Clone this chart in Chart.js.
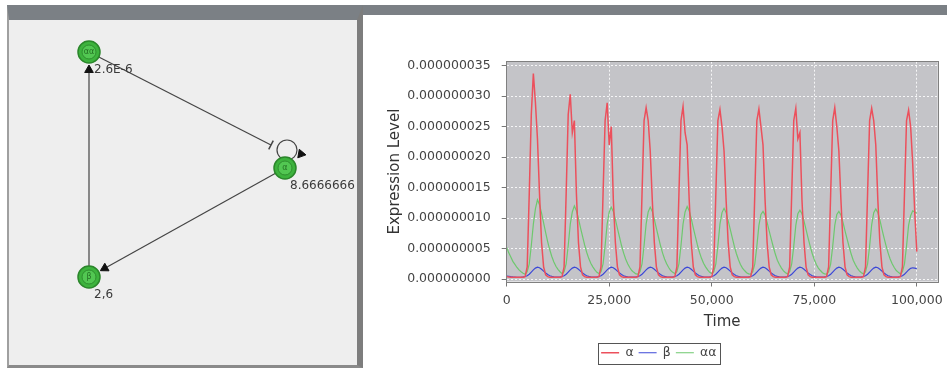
<!DOCTYPE html>
<html>
<head>
<meta charset="utf-8">
<script src="https://cdn.jsdelivr.net/npm/chart.js@4.4.0/dist/chart.umd.min.js"></script>
<style>
body{margin:0;background:#fff;width:947px;height:370px;overflow:hidden;position:relative}
#bar{position:absolute;left:7px;top:5px;width:940px;height:10px;background:#7b8085}
#panel{position:absolute;left:7px;top:5px;width:348px;height:345px;background:#eeeeee;
  border-top:15px solid #7b8085;border-left:2px solid #a0a0a0;border-right:6px solid #7d7d7d;border-bottom:3px solid #8a8a8a}
#net{position:absolute;left:0;top:0}
#sim{position:absolute;left:380px;top:20px}
</style>
</head>
<body>
<div id="bar"></div>
<div id="panel"></div>
<canvas id="net" width="357" height="370"></canvas>
<canvas id="sim" width="567" height="350"></canvas>
<script>
Chart.defaults.font.family = 'DejaVu Sans';
Chart.defaults.color = '#444';

// network panel
var nodeNames = ['αα', 'α', 'β'];
var nodeX = [89, 285, 89];
var nodeY = [52, 168, 277];
var nodeValues = ['2.6E-6', '8.6666666', '2,6'];
var edgeFrom = [2, 1, 0];
var edgeTo = [0, 2, 1];
var edgeKind = ['arrow', 'arrow', 'inhibit'];
var loopNode = 1;

// simulation (values in units of 1e-9)
var times = [
  0,500,1000,1500,2000,2500,3000,3500,4000,4500,
  5000,5500,6000,6500,7000,7500,8000,8500,9000,9500,
  10000,10500,11000,11500,12000,12500,13000,13500,14000,14500,
  15000,15500,16000,16500,17000,17500,18000,18500,19000,19500,
  20000,20500,21000,21500,22000,22500,23000,23500,24000,24500,
  25000,25500,26000,26500,27000,27500,28000,28500,29000,29500,
  30000,30500,31000,31500,32000,32500,33000,33500,34000,34500,
  35000,35500,36000,36500,37000,37500,38000,38500,39000,39500,
  40000,40500,41000,41500,42000,42500,43000,43500,44000,44500,
  45000,45500,46000,46500,47000,47500,48000,48500,49000,49500,
  50000,50500,51000,51500,52000,52500,53000,53500,54000,54500,
  55000,55500,56000,56500,57000,57500,58000,58500,59000,59500,
  60000,60500,61000,61500,62000,62500,63000,63500,64000,64500,
  65000,65500,66000,66500,67000,67500,68000,68500,69000,69500,
  70000,70500,71000,71500,72000,72500,73000,73500,74000,74500,
  75000,75500,76000,76500,77000,77500,78000,78500,79000,79500,
  80000,80500,81000,81500,82000,82500,83000,83500,84000,84500,
  85000,85500,86000,86500,87000,87500,88000,88500,89000,89500,
  90000,90500,91000,91500,92000,92500,93000,93500,94000,94500,
  95000,95500,96000,96500,97000,97500,98000,98500,99000,99500,
  100000
];
var alphaNano = [
  0.4,0.35,0.3,0.3,0.3,0.3,0.3,0.3,0.3,0.4,
  2,14,27,33.7,29,23,14,6,2,0.7,
  0.4,0.3,0.3,0.3,0.3,0.3,0.3,0.4,2,14,
  27,30.3,24,26,14,6,2,0.7,0.4,0.3,
  0.3,0.3,0.3,0.3,0.3,0.4,2,14,26,28.9,
  22,25,13,6,2,0.7,0.4,0.3,0.3,0.3,
  0.3,0.3,0.3,0.3,0.4,2,14,26,28.1,26,
  21,13,6,2,0.7,0.4,0.3,0.3,0.3,0.3,
  0.3,0.3,0.4,2,14,26,28.3,24,22,13,
  6,2,0.7,0.4,0.3,0.3,0.3,0.3,0.3,0.3,
  0.4,2,14,26,27.8,25,21,13,6,2,
  0.7,0.4,0.3,0.3,0.3,0.3,0.3,0.3,0.3,0.4,
  2,14,26,27.9,25,22,13,6,2,0.7,
  0.4,0.3,0.3,0.3,0.3,0.3,0.3,0.4,2,14,
  26,28,23,24,13,6,2,0.7,0.4,0.3,
  0.3,0.3,0.3,0.3,0.3,0.3,0.4,2,14,26,
  28.1,25,21,13,6,2,0.7,0.4,0.3,0.3,
  0.3,0.3,0.3,0.3,0.4,2,14,26,28,26,
  22,13,6,2,0.7,0.4,0.3,0.3,0.3,0.3,
  0.3,0.3,0.4,2,14,26,27.7,25,19,11,
  4.5
];
var betaNano = [
  0.5,0.45,0.4,0.36,0.33,0.3,0.3,0.3,0.35,0.42,
  0.55,0.8,1.15,1.5,1.8,1.95,1.85,1.6,1.3,1.0,
  0.75,0.55,0.45,0.38,0.34,0.32,0.35,0.42,0.55,0.8,
  1.15,1.5,1.8,1.95,1.85,1.6,1.3,1.0,0.75,0.55,
  0.45,0.38,0.34,0.32,0.35,0.42,0.55,0.8,1.15,1.5,
  1.8,1.95,1.85,1.6,1.3,1.0,0.75,0.55,0.45,0.38,
  0.34,0.32,0.32,0.35,0.42,0.55,0.8,1.15,1.5,1.8,
  1.95,1.85,1.6,1.3,1.0,0.75,0.55,0.45,0.38,0.34,
  0.32,0.35,0.42,0.55,0.8,1.15,1.5,1.8,1.95,1.85,
  1.6,1.3,1.0,0.75,0.55,0.45,0.38,0.34,0.32,0.35,
  0.42,0.55,0.8,1.15,1.5,1.8,1.95,1.85,1.6,1.3,
  1.0,0.75,0.55,0.45,0.38,0.34,0.32,0.32,0.35,0.42,
  0.55,0.8,1.15,1.5,1.8,1.95,1.85,1.6,1.3,1.0,
  0.75,0.55,0.45,0.38,0.34,0.32,0.35,0.42,0.55,0.8,
  1.15,1.5,1.8,1.95,1.85,1.6,1.3,1.0,0.75,0.55,
  0.45,0.38,0.34,0.32,0.32,0.35,0.42,0.55,0.8,1.15,
  1.5,1.8,1.95,1.85,1.6,1.3,1.0,0.75,0.55,0.45,
  0.38,0.34,0.32,0.35,0.42,0.55,0.8,1.15,1.5,1.8,
  1.95,1.85,1.6,1.3,1.0,0.75,0.55,0.45,0.38,0.34,
  0.32,0.35,0.42,0.55,0.8,1.15,1.5,1.75,1.85,1.8,
  1.7
];
var alphaAlphaNano = [
  5.2,4.3,3.6,2.9,2.4,1.9,1.5,1.2,0.95,0.8,
  1.2,2.5,5.5,9,11.5,13,12.2,10.8,9.2,7.6,
  6.1,4.8,3.7,2.8,2.1,1.6,1.2,0.9,1.2,2.5,
  5.5,9,11,12,11.2,9.9,8.4,7,5.6,4.4,
  3.4,2.6,2.0,1.5,1.1,0.9,1.2,2.5,5.5,9,
  11,11.8,11.1,9.8,8.3,6.9,5.5,4.3,3.3,2.5,
  1.9,1.4,1.1,0.85,0.8,1.2,2.5,5.5,9,11,
  11.8,11.1,9.8,8.3,6.9,5.5,4.3,3.3,2.5,1.9,
  1.4,1.1,0.9,1.2,2.5,5.5,9,11,11.9,11.2,
  9.9,8.4,7,5.6,4.4,3.4,2.6,2.0,1.5,1.1,
  0.9,1.2,2.5,5.5,9,10.9,11.6,10.9,9.6,8.2,
  6.8,5.4,4.2,3.2,2.4,1.8,1.4,1.05,0.85,0.8,
  1.2,2.5,5.4,8.8,10.6,11.1,10.5,9.3,7.9,6.6,
  5.3,4.1,3.1,2.4,1.8,1.35,1.05,0.85,1.2,2.5,
  5.4,8.8,10.7,11.3,10.7,9.5,8.1,6.7,5.4,4.2,
  3.2,2.4,1.8,1.4,1.05,0.85,0.8,1.2,2.5,5.4,
  8.8,10.6,11.1,10.5,9.3,7.9,6.6,5.3,4.1,3.1,
  2.4,1.8,1.35,1.05,0.85,1.2,2.5,5.4,8.9,10.9,
  11.5,10.9,9.7,8.2,6.8,5.5,4.3,3.3,2.5,1.9,
  1.4,1.1,0.85,1.2,2.5,5.4,8.8,10.4,11.2,11.0,
  10.8
];
var seriesNames = ['α', 'β', 'αα'];
var seriesColors = ['rgb(236,80,92)', 'rgb(60,72,215)', 'rgb(110,200,110)'];
var yTicks = [0, 5, 10, 15, 20, 25, 30, 35];
var yTickLabels = ['0.000000000', '0.000000005', '0.000000010', '0.000000015',
  '0.000000020', '0.000000025', '0.000000030', '0.000000035'];
var xTicks = [0, 25000, 50000, 75000, 100000];
var xTickLabels = ['0', '25,000', '50,000', '75,000', '100,000'];

// ---------- network diagram ----------
function towards(from, to, d) {
  var dx = nodeX[from] - nodeX[to], dy = nodeY[from] - nodeY[to];
  var len = Math.hypot(dx, dy);
  return {x: nodeX[to] + dx / len * d, y: nodeY[to] + dy / len * d};
}
function headingDeg(p, q) {
  return Math.atan2(q.x - p.x, -(q.y - p.y)) * 180 / Math.PI;
}
// inhibition bar sits up-left of the target, clear of the self loop
var inhibitShift = {dx: -14, dy: -23};

var netSets = [];
var arrowPts = [], arrowRot = [];
var barPts = [], barRot = [];
for (var e = 0; e < edgeFrom.length; e++) {
  var s = edgeFrom[e], t = edgeTo[e];
  var start = {x: nodeX[s], y: nodeY[s]};
  var end;
  if (edgeKind[e] === 'inhibit') {
    end = {x: nodeX[t] + inhibitShift.dx, y: nodeY[t] + inhibitShift.dy};
    barPts.push(end);
    barRot.push(headingDeg(start, end));
  } else {
    end = towards(s, t, 14);
    arrowPts.push(towards(s, t, 18));
    arrowRot.push(headingDeg(start, end));
  }
  netSets.push({
    type: 'line', data: [start, end],
    borderColor: '#444', borderWidth: 1.2, pointRadius: 0, order: 3
  });
}
// self loop on node
netSets.push({
  data: [{x: nodeX[loopNode] + 2, y: nodeY[loopNode] - 18}],
  pointStyle: 'circle', pointRadius: 10, backgroundColor: 'rgba(0,0,0,0)',
  borderColor: '#444', borderWidth: 1.2, order: 3
});
arrowPts.push({x: nodeX[loopNode] + 16, y: nodeY[loopNode] - 14});
arrowRot.push(100);

netSets.push({
  data: arrowPts, pointStyle: 'triangle', pointRadius: 5, rotation: arrowRot,
  backgroundColor: '#111', borderColor: '#111', borderWidth: 1, order: 1
});
netSets.push({
  data: barPts, pointStyle: 'line', pointRadius: 5, rotation: barRot,
  backgroundColor: '#444', borderColor: '#444', borderWidth: 1.5, order: 1
});
netSets.push({
  data: nodeX.map(function (x, i) { return {x: x, y: nodeY[i]}; }),
  pointStyle: 'circle', pointRadius: 11, backgroundColor: '#3db33d',
  borderColor: '#2b862b', borderWidth: 1.5, order: 0
});
netSets.push({
  data: nodeX.map(function (x, i) { return {x: x, y: nodeY[i]}; }),
  pointStyle: 'circle', pointRadius: 7, backgroundColor: '#52c752',
  borderColor: '#2f8f2f', borderWidth: 1, order: -1
});

var netText = {
  id: 'netText',
  afterDatasetsDraw: function (chart) {
    var ctx = chart.ctx, xs = chart.scales.x, ys = chart.scales.y;
    ctx.save();
    ctx.textBaseline = 'middle';
    for (var i = 0; i < nodeX.length; i++) {
      var px = xs.getPixelForValue(nodeX[i]), py = ys.getPixelForValue(nodeY[i]);
      ctx.font = '8px "DejaVu Sans"';
      ctx.fillStyle = '#237023';
      ctx.textAlign = 'center';
      ctx.fillText(nodeNames[i], px, py);
      ctx.font = '12px "DejaVu Sans"';
      ctx.fillStyle = '#3a3a3a';
      ctx.textAlign = 'left';
      ctx.fillText(nodeValues[i], px + 5, py + 18);
    }
    ctx.restore();
  }
};

new Chart(document.getElementById('net'), {
  type: 'scatter',
  data: {datasets: netSets},
  options: {
    responsive: false, animation: false, events: [],
    layout: {padding: 0, autoPadding: false},
    plugins: {legend: {display: false}, tooltip: {enabled: false}},
    scales: {
      x: {type: 'linear', display: false, min: 0, max: 357},
      y: {type: 'linear', display: false, min: 0, max: 370, reverse: true}
    }
  },
  plugins: [netText]
});

// ---------- expression chart ----------
var plotFrame = {
  id: 'plotFrame',
  beforeDraw: function (chart) {
    var a = chart.chartArea, ctx = chart.ctx;
    ctx.save();
    ctx.fillStyle = 'rgb(196,196,200)';
    ctx.fillRect(a.left, a.top, a.right - a.left, a.bottom - a.top);
    ctx.restore();
  },
  afterDatasetsDraw: function (chart) {
    var a = chart.chartArea, ctx = chart.ctx;
    ctx.save();
    ctx.strokeStyle = '#808080';
    ctx.lineWidth = 1;
    ctx.strokeRect(Math.round(a.left) - 0.5, Math.round(a.top) - 0.5,
      Math.round(a.right - a.left) + 1, Math.round(a.bottom - a.top) + 1);
    ctx.restore();
  },
  afterDraw: function (chart) {
    var hb = chart.legend.legendHitBoxes, ctx = chart.ctx;
    if (!hb || !hb.length) return;
    var l = Math.min.apply(null, hb.map(function (b) { return b.left; })) - 3;
    var r = Math.max.apply(null, hb.map(function (b) { return b.left + b.width; })) + 4;
    var t = hb[0].top - 4, b = hb[0].top + hb[0].height + 4;
    ctx.save();
    ctx.strokeStyle = '#555';
    ctx.lineWidth = 1;
    ctx.strokeRect(Math.round(l) + 0.5, Math.round(t) + 0.5, Math.round(r - l), Math.round(b - t));
    ctx.restore();
  }
};

function noEdgePadding(s) {
  s.paddingLeft = 0; s.paddingRight = 0; s.paddingTop = 0; s.paddingBottom = 0;
}

var seriesData = [alphaNano, betaNano, alphaAlphaNano];
new Chart(document.getElementById('sim'), {
  type: 'line',
  data: {
    datasets: seriesData.map(function (vals, k) {
      return {
        label: seriesNames[k],
        data: times.map(function (t, i) { return {x: t, y: vals[i]}; }),
        borderColor: seriesColors[k],
        backgroundColor: seriesColors[k],
        borderWidth: k === 0 ? 1.5 : 1.2,
        pointRadius: 0,
        tension: 0,
        fill: false
      };
    })
  },
  options: {
    responsive: false, animation: false, events: [],
    layout: {padding: {left: 0, right: 9.3, top: 41.7, bottom: 1}},
    plugins: {
      tooltip: {enabled: false},
      legend: {
        position: 'bottom',
        labels: {
          usePointStyle: true, pointStyle: 'line', pointStyleWidth: 18,
          font: {size: 12.5}, color: '#444', padding: 5
        }
      }
    },
    scales: {
      x: {
        type: 'linear', min: 0, max: 105100,
        afterBuildTicks: function (s) { s.ticks = xTicks.map(function (v) { return {value: v}; }); },
        afterFit: function (s) { s.height = 60; noEdgePadding(s); },
        ticks: {
          autoSkip: false, maxRotation: 0, padding: 7, font: {size: 12.5}, color: '#444',
          callback: function (v, i) { return xTickLabels[i]; }
        },
        grid: {color: 'rgba(255,255,255,0.85)', tickColor: '#777', tickLength: 5},
        border: {display: false, dash: [2, 2]},
        title: {display: true, text: 'Time', font: {size: 15}, color: '#333', padding: {top: 0, bottom: 10}}
      },
      y: {
        type: 'linear', min: -0.4, max: 35.65,
        afterBuildTicks: function (s) { s.ticks = yTicks.map(function (v) { return {value: v}; }); },
        afterFit: function (s) { s.width = 126.7; noEdgePadding(s); },
        ticks: {
          padding: 11, font: {size: 12.5}, color: '#444',
          callback: function (v, i) { return yTickLabels[i]; }
        },
        grid: {color: 'rgba(255,255,255,0.85)', tickColor: '#777', tickLength: 5},
        border: {display: false, dash: [2, 2]},
        title: {display: true, text: 'Expression Level', font: {size: 15}, color: '#333', padding: {top: 6, bottom: 0}}
      }
    }
  },
  plugins: [plotFrame]
});
</script>
</body>
</html>
